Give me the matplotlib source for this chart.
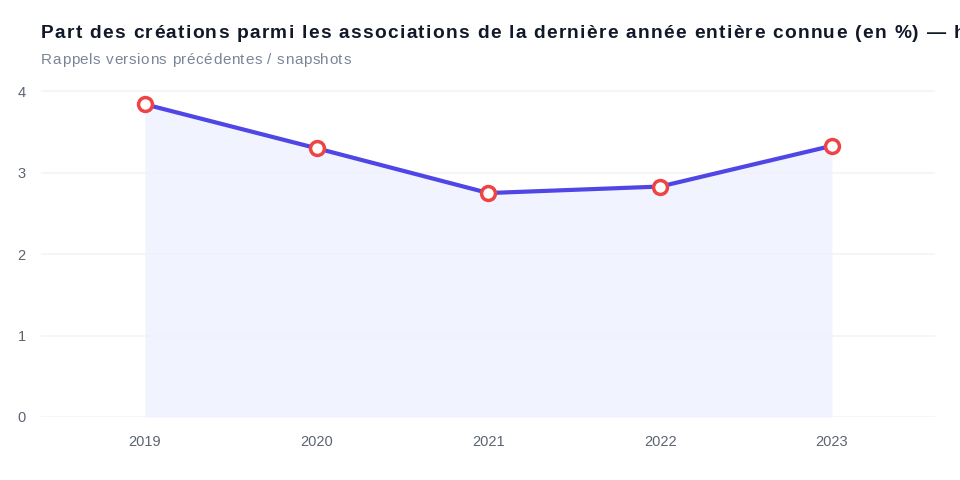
import numpy as np
import matplotlib.pyplot as plt
from matplotlib.font_manager import FontProperties

plt.rcParams['font.family'] = ['Liberation Sans', 'DejaVu Sans']

years = ['2019', '2020', '2021', '2022', '2023']
share = [3.84, 3.30, 2.75, 2.83, 3.33]

title = "Part des créations parmi les associations de la dernière année entière connue (en %) — historique"
subtitle = "Rappels versions précédentes / snapshots"

fig = plt.figure(figsize=(9.6, 4.8), dpi=100)
ax = fig.add_axes([41 / 960, 1 - 417 / 480, (935 - 41) / 960, (417 - 88) / 480])

x = np.arange(len(years))
ax.fill_between(x, share, 0, color='#eef2ff', alpha=0.8, linewidth=0, zorder=1)
ax.plot(x, share, color='#4f46e5', linewidth=3, zorder=3, solid_capstyle='round')
ax.plot(x, share, linestyle='none', marker='o', markersize=10,
        markerfacecolor='white', markeredgecolor='#ef4444', markeredgewidth=2.5, zorder=4)

ax.set_xlim(-0.605, 4.6)
ax.set_ylim(0, 4.04)
ax.set_xticks(x)
ax.set_xticklabels(years)
ax.set_yticks([0, 1, 2, 3, 4])
ax.grid(axis='y', color='#f1f3f8', linewidth=1.2, zorder=0)
ax.set_axisbelow(True)
for s in ax.spines.values():
    s.set_visible(False)
ax.tick_params(axis='both', length=0, labelsize=10.5, labelcolor='#5b6472')
ax.tick_params(axis='x', pad=13)
ax.tick_params(axis='y', pad=11)


# texte avec espacement des lettres (matplotlib n'a pas de letter-spacing)
def spaced_text(x0, y0, s, spacing, size, weight='normal', **kw):
    r = fig.canvas.get_renderer()
    prop = FontProperties(family=['Liberation Sans'], size=size, weight=weight)
    bar_w = r.get_text_width_height_descent('|', prop, ismath=False)[0]
    W = fig.bbox.width
    for i, ch in enumerate(s):
        off = 0
        if i:
            off = r.get_text_width_height_descent(s[:i] + '|', prop, ismath=False)[0] - bar_w
        px = x0 * W + off + i * spacing
        if px > W - 2:
            break
        fig.text(px / W, y0, ch, ha='left', fontproperties=prop, **kw)


spaced_text(41 / 960, 1 - 34 / 480, title, 1.3, 13.8, 'bold',
            color='#111827', va='center')
spaced_text(41 / 960, 1 - 60 / 480, subtitle, 0.6, 11,
            color='#7a8599', va='center')

fig.savefig('out.png', dpi=100, facecolor='white')
